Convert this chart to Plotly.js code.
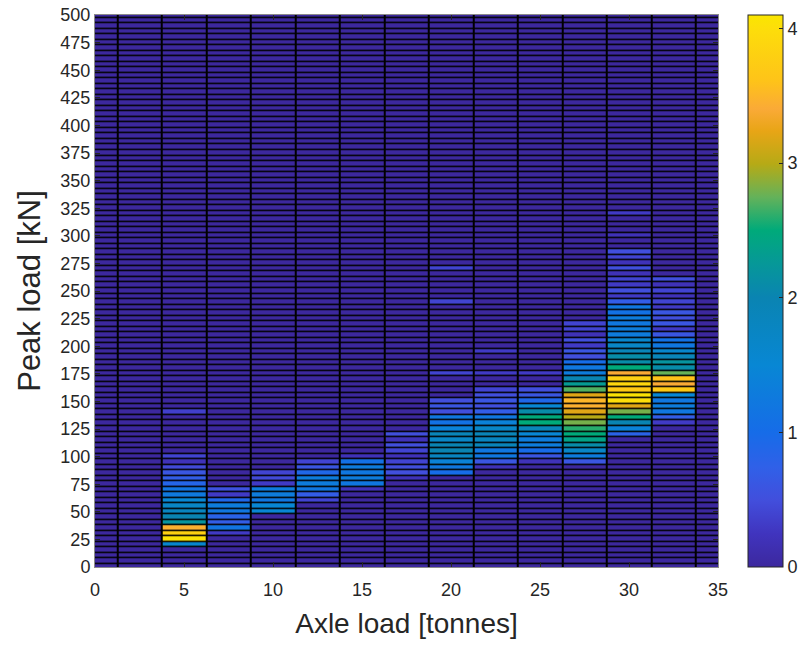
<!DOCTYPE html>
<html>
<head>
<meta charset="utf-8">
<script src="https://cdn.plot.ly/plotly-3.0.1.min.js"></script>
<style>html,body{margin:0;padding:0;background:#fff;}#chart{width:801px;height:648px;}</style>
</head>
<body>
<div id="chart"></div>
<script>
// Axle load bin centres [tonnes]
const axleLoad = [0, 2.5, 5, 7.5, 10, 12.5, 15, 17.5, 20, 22.5, 25, 27.5, 30, 32.5, 35];
// Peak load bin width [kN]
const peakStep = 5;
const peakMax = 500;

// Non-zero values per axle-load column: start bin (kN) and values in 5 kN steps upward
const start_5 = 20;
const vals_5 = [1.6, 4.05, 3.8, 3.45, 2.2, 2.0, 1.8, 1.7, 1.5, 1.25, 1.15, 0.85, 0.7, 0.6, 0.45, 0.2, 0.4, 0, 0, 0, 0, 0, 0, 0, 0.35];
const start_7_5 = 30;
const vals_7_5 = [0.3, 1.15, 0.7, 0.8, 1.2, 1.3, 0.9, 0.3, 0.55];
const start_10 = 50;
const vals_10 = [1.5, 1.5, 1.2, 1.3, 1.3, 0.3, 0.45, 0.4];
const start_12_5 = 60;
const vals_12_5 = [0.4, 0.7, 1.2, 1.3, 1.3, 0.9, 0.6, 0.4];
const start_15 = 70;
const vals_15 = [0.2, 1.2, 1.3, 1.2, 1.3, 1.1, 0.2];
const start_17_5 = 80;
const vals_17_5 = [0.2, 0.5, 0.5, 0.4, 0.2, 0.4, 0.5, 0.2, 0.5];
const start_20 = 85;
const vals_20 = [1.0, 1.2, 1.4, 1.8, 2.0, 2.0, 1.7, 1.9, 1.4, 1.1, 1.2, 0.5, 0.6, 0.5, 0, 0, 0, 0, 0.4,
                 0, 0, 0, 0, 0, 0, 0, 0, 0, 0, 0, 0, 0.4, 0, 0, 0, 0, 0, 0.4];
const start_22_5 = 90;
const vals_22_5 = [0.2, 0.6, 1.2, 1.2, 1.9, 1.8, 1.9, 1.7, 1.4, 1.2, 0.7, 0.5, 0.6, 0.5, 0.4, 0, 0, 0.3, 0, 0, 0, 0.3];
const start_25 = 95;
const vals_25 = [0.2, 0.6, 1.0, 1.3, 1.3, 1.5, 1.9, 2.5, 2.5, 2.1, 1.5, 0.9, 0.6, 0.5, 0, 0, 0.3];
const start_27_5 = 95;
const vals_27_5 = [0.6, 1.3, 1.7, 2.1, 2.4, 2.5, 2.6, 2.8, 3.0, 3.2, 3.45, 3.5, 3.2, 2.7, 2.3, 2.0, 1.3, 1.2, 1.0, 0.5, 0.6, 0.3, 0.5, 0.2, 0.4, 0.4];
const start_30 = 120;
const vals_30 = [0.8, 1.4, 2.0, 2.5, 2.8, 3.2, 4.0, 4.05, 3.7, 3.9, 3.8, 3.4, 2.5, 2.1, 2.1, 1.9, 1.7, 1.6, 1.3, 1.3, 1.2, 1.3, 1.1, 1.2,
                 0.7, 0.3, 0.5, 0.3, 0.4, 0.2, 0.5, 0.2, 0.4, 0.5, 0, 0, 0.2, 0, 0, 0, 0.3];
const start_32_5 = 130;
const vals_32_5 = [0.3, 0.7, 1.2, 1.3, 1.2, 1.5, 3.7, 3.4, 3.6, 2.75, 2.1, 2.2, 1.9, 1.6, 1.2, 1.1, 0.6, 0.3, 0.6, 0.5, 0.6, 0.3, 0.4, 0.2, 0.4, 0.2, 0.5];

const columns = [
  [5, start_5, vals_5], [7.5, start_7_5, vals_7_5], [10, start_10, vals_10],
  [12.5, start_12_5, vals_12_5], [15, start_15, vals_15], [17.5, start_17_5, vals_17_5],
  [20, start_20, vals_20], [22.5, start_22_5, vals_22_5], [25, start_25, vals_25],
  [27.5, start_27_5, vals_27_5], [30, start_30, vals_30], [32.5, start_32_5, vals_32_5]
];

// Build grid
const peakLoad = [];
for (let p = 0; p <= peakMax; p += peakStep) peakLoad.push(p);
const z = peakLoad.map(() => axleLoad.map(() => 0));
columns.forEach(([xc, s, vals]) => {
  const ci = axleLoad.indexOf(xc);
  vals.forEach((v, i) => {
    const ri = Math.round(s / peakStep) + i;
    if (ri < z.length) z[ri][ci] = v;
  });
});

const parula = [
  [0.00, 'rgb(60,40,158)'],
  [0.06, 'rgb(64,52,190)'],
  [0.12, 'rgb(66,78,220)'],
  [0.18, 'rgb(48,96,232)'],
  [0.244, 'rgb(22,108,232)'],
  [0.366, 'rgb(8,135,212)'],
  [0.488, 'rgb(10,132,178)'],
  [0.55, 'rgb(6,152,152)'],
  [0.61, 'rgb(0,170,122)'],
  [0.67, 'rgb(100,178,90)'],
  [0.73, 'rgb(182,170,22)'],
  [0.79, 'rgb(232,165,22)'],
  [0.83, 'rgb(250,170,55)'],
  [0.88, 'rgb(254,195,25)'],
  [0.976, 'rgb(253,222,10)'],
  [1.00, 'rgb(250,230,0)']
];

const font = 'Liberation Sans, Arial, Helvetica, sans-serif';
const txt = '#262626';

Plotly.newPlot('chart', [{
  type: 'heatmap',
  x: axleLoad,
  y: peakLoad,
  z: z,
  zmin: 0,
  zmax: 4.1,
  colorscale: parula,
  xgap: 2,
  ygap: 1.5,
  hoverinfo: 'skip',
  colorbar: {
    x: 1.048, xanchor: 'left', xref: 'paper',
    y: 0.5, yanchor: 'middle', len: 1, lenmode: 'fraction',
    thickness: 35, thicknessmode: 'pixels',
    outlinewidth: 1, outlinecolor: txt,
    tickvals: [0, 1, 2, 3, 4],
    ticks: 'inside', ticklen: 4, tickcolor: txt,
    tickfont: {family: font, size: 18, color: txt},
    xpad: 0, ypad: 0
  }
}], {
  width: 801, height: 648,
  margin: {l: 95, r: 83, t: 15, b: 81, autoexpand: false},
  paper_bgcolor: '#ffffff',
  plot_bgcolor: '#000000',
  xaxis: {
    range: [0, 35], tickvals: [0, 5, 10, 15, 20, 25, 30, 35],
    ticks: 'inside', ticklen: 5, tickcolor: txt,
    showline: true, linecolor: '#8a8a8a', linewidth: 1, mirror: 'ticks',
    showgrid: false, zeroline: false,
    ticklabelstandoff: 6,
    tickfont: {family: font, size: 18, color: txt},
    title: {text: 'Axle load [tonnes]', font: {family: font, size: 28, color: txt}, standoff: 14},
    automargin: false
  },
  yaxis: {
    range: [0, 500], tickvals: [0,25,50,75,100,125,150,175,200,225,250,275,300,325,350,375,400,425,450,475,500],
    ticks: 'inside', ticklen: 5, tickcolor: txt,
    showline: true, linecolor: '#8a8a8a', linewidth: 1, mirror: 'ticks',
    showgrid: false, zeroline: false,
    tickfont: {family: font, size: 18, color: txt},
    title: {text: 'Peak load [kN]', font: {family: font, size: 31, color: txt}, standoff: 10},
    automargin: false
  },
  showlegend: false
}, {displayModeBar: false, staticPlot: true});
</script>
</body>
</html>
